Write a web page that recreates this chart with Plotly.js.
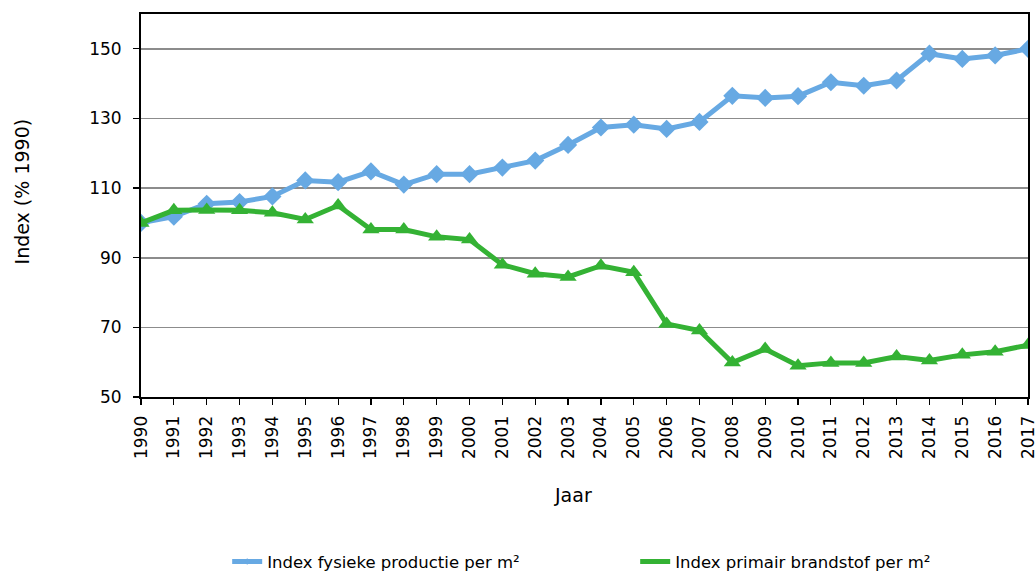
<!DOCTYPE html>
<html>
<head>
<meta charset="utf-8">
<script src="https://cdn.plot.ly/plotly-3.0.1.min.js"></script>
<style>html,body{margin:0;padding:0;background:#fff;}#chart{width:1035px;height:571px;}</style>
</head>
<body>
<div id="chart"></div>
<script>
const years = [1990,1991,1992,1993,1994,1995,1996,1997,1998,1999,2000,2001,2002,2003,2004,2005,2006,2007,2008,2009,2010,2011,2012,2013,2014,2015,2016,2017];
const productie = [100,101.8,105.5,106,107.6,112.2,111.7,114.8,111,114,114,115.9,117.9,122.4,127.4,128.2,127,129,136.5,135.9,136.4,140.4,139.4,140.9,148.6,147.1,148.1,150];
const brandstof = [100,103.6,103.7,103.6,102.9,101,105,98.1,98.1,96,95.2,88,85.4,84.5,87.7,85.8,71,69.1,59.9,63.8,59,59.8,59.8,61.6,60.5,62.1,63,64.9];
const seriesNames = ['Index fysieke productie per m²','Index primair brandstof per m²'];
const yTickVals = [50,70,90,110,130,150];
const yTitle = 'Index (% 1990)';
const xTitle = 'Jaar';

const font = 'DejaVu Sans, Verdana, sans-serif';
const blue = '#67A9E3', green = '#34B234';
const traces = [
  {x: years, y: productie, name: seriesNames[0], type: 'scatter', mode: 'lines+markers', showlegend: false,
   line: {color: blue, width: 5}, marker: {symbol: 'diamond', size: 14, color: blue}},
  {x: years, y: brandstof, name: seriesNames[1], type: 'scatter', mode: 'lines+markers', showlegend: false,
   line: {color: green, width: 5}, marker: {symbol: 'triangle-up', size: 15, color: green}},
  // legend-only entries (thin line with a tiny marker, like the reference legend)
  {x: [null], y: [null], name: seriesNames[0], type: 'scatter', mode: 'lines+markers',
   line: {color: blue, width: 5}, marker: {symbol: 'diamond', size: 5, color: blue}},
  {x: [null], y: [null], name: seriesNames[1], type: 'scatter', mode: 'lines+markers',
   line: {color: green, width: 5}, marker: {symbol: 'triangle-up', size: 5, color: green}}
];
const layout = {
  width: 1035, height: 571,
  margin: {l: 141, r: 7, t: 14, b: 174},
  paper_bgcolor: '#fff', plot_bgcolor: '#fff',
  font: {family: font, size: 15, color: '#000'},
  showlegend: true,
  xaxis: {
    range: [1990, 2017], tickmode: 'array', tickvals: years, ticktext: years.map(String),
    tickangle: -90, ticks: 'outside', ticklen: 6, tickwidth: 1.2, tickcolor: '#000',
    ticklabelstandoff: 4, ticklabeloverflow: 'allow',
    showline: true, linecolor: '#000', linewidth: 2, mirror: true, showgrid: false, zeroline: false,
    automargin: false,
    tickfont: {family: font, size: 17}
  },
  yaxis: {
    range: [50, 160], tickmode: 'array', tickvals: yTickVals,
    ticks: 'outside', ticklen: 6, tickwidth: 1.2, tickcolor: '#000',
    ticklabelstandoff: 8,
    showline: true, linecolor: '#000', linewidth: 2, mirror: true,
    showgrid: true, gridcolor: '#8c8c8c', gridwidth: 1.6, zeroline: false,
    automargin: false,
    tickfont: {family: font, size: 17}
  },
  annotations: [
    {text: yTitle, xref: 'paper', yref: 'paper', x: -0.134, y: 0.537, xanchor: 'center', yanchor: 'middle',
     textangle: -90, showarrow: false, font: {family: font, size: 19}},
    {text: xTitle, xref: 'paper', yref: 'paper', x: 0.4865, y: -0.256, xanchor: 'center', yanchor: 'middle',
     showarrow: false, font: {family: font, size: 19}}
  ],
  legend: {orientation: 'h', xref: 'container', yref: 'container', x: 0.2195, xanchor: 'left',
           y: 0.016, yanchor: 'middle',
           font: {family: font, size: 16.5}, entrywidth: 363, traceorder: 'normal'}
};
Plotly.newPlot('chart', traces, layout, {displayModeBar: false, staticPlot: true});
</script>
</body>
</html>
